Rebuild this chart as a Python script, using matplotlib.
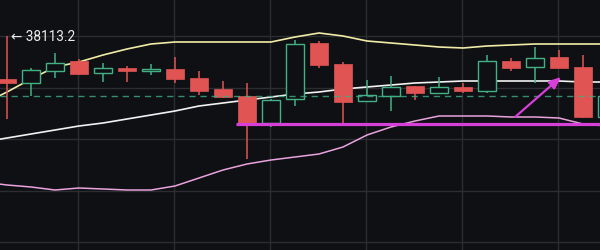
import matplotlib
matplotlib.use("Agg")
import matplotlib.pyplot as plt
from matplotlib.patches import Rectangle

# OHLC candles (price)
opens  = [38027.2, 38019.2, 38043.2, 38063.2, 38039.2, 38049.2, 38043.2, 38047.2, 38029.2, 38007.2,
          37993.2, 37939.2, 37987.2, 38099.2, 38057.2, 37983.2, 37993.2, 38013.2, 37999.2, 38011.2,
          38003.2, 38063.2, 38051.2, 38071.2, 38051.2, 37951.2]
highs  = [38113.2, 38049.2, 38079.2, 38067.2, 38059.2, 38053.2, 38057.2, 38071.2, 38043.2, 38023.2,
          38019.2, 37987.2, 38105.2, 38103.2, 38061.2, 38025.2, 38033.2, 38013.2, 38031.2, 38019.2,
          38075.2, 38069.2, 38091.2, 38085.2, 38075.2, 37997.2]
lows   = [37947.2, 37993.2, 38029.2, 38035.2, 38021.2, 38021.2, 38035.2, 38019.2, 37995.2, 37989.2,
          37867.2, 37931.2, 37973.2, 38049.2, 37939.2, 37981.2, 37963.2, 37985.2, 37997.2, 37999.2,
          37999.2, 38043.2, 38019.2, 38049.2, 37949.2, 37947.2]
closes = [38019.2, 38045.2, 38059.2, 38037.2, 38049.2, 38043.2, 38047.2, 38027.2, 38003.2, 37991.2,
          37939.2, 37985.2, 38097.2, 38055.2, 37981.2, 37995.2, 38011.2, 37999.2, 38011.2, 38003.2,
          38063.2, 38049.2, 38069.2, 38049.2, 37951.2, 37993.2]

# Bollinger bands, sampled from one bar before the first candle
band_upper = [37977.2, 38001.2, 38027.2, 38051.2, 38061.2, 38075.2, 38087.2, 38097.2, 38101.2, 38101.2,
              38101.2, 38101.2, 38101.2, 38111.2, 38119.2, 38113.2, 38103.2, 38099.2, 38095.2, 38091.2,
              38089.2, 38093.2, 38095.2, 38097.2, 38097.2, 38097.2, 38097.2]
band_mid   = [37901.2, 37909.2, 37917.2, 37925.2, 37933.2, 37939.2, 37947.2, 37955.2, 37963.2, 37973.2,
              37979.2, 37985.2, 37991.2, 37997.2, 38001.2, 38007.2, 38011.2, 38015.2, 38019.2, 38021.2,
              38023.2, 38023.2, 38023.2, 38023.2, 38023.2, 38021.2, 38021.2]
band_lower = [37821.2, 37815.2, 37811.2, 37805.2, 37809.2, 37807.2, 37805.2, 37805.2, 37813.2, 37829.2,
              37845.2, 37857.2, 37865.2, 37871.2, 37877.2, 37891.2, 37915.2, 37931.2, 37943.2, 37953.2,
              37953.2, 37953.2, 37951.2, 37951.2, 37949.2, 37937.2, 37933.2]

last_price = 37993.2
support_level = 37937.2
support_start = 9.54
arrow_from = (21.17, 37951.2)
arrow_to = (23.08, 38031.2)
high_label = "← 38113.2"
high_value = 38113.2
grid_levels = [38113.2, 38010.2, 37907.2, 37804.2, 37701.2]
grid_bars = [3, 7, 11, 15, 19, 23]

BG = "#0f1013"
GRID = "#2c2d31"
RED = "#e05454"
GREEN = "#43b184"
MAGENTA = "#d63fd8"

fig = plt.figure(figsize=(6.0, 2.51), dpi=100, facecolor=BG)
ax = fig.add_axes([0, 0, 1, 1])
ax.set_facecolor(BG)
ax.set_xlim(-0.2917, 24.708)
ax.set_ylim(37685.2, 38187.2)
for s in ax.spines.values():
    s.set_visible(False)
ax.set_xticks([])
ax.set_yticks([])

for g in grid_levels:
    ax.axhline(g, color=GRID, lw=1.0, zorder=0)
for g in grid_bars:
    ax.axvline(g - 0.04, color=GRID, lw=1.0, zorder=0)

# bands
bx = list(range(-1, len(band_mid) - 1))
ax.plot(bx, band_upper, color="#f0eca8", lw=1.2, zorder=2)
ax.plot(bx, band_mid, color="#f2f2f2", lw=1.2, zorder=2)
ax.plot(bx, band_lower, color="#e9a3de", lw=1.1, zorder=2)

# candles
w = 0.77
for i, (o, h, l, c) in enumerate(zip(opens, highs, lows, closes)):
    up = c >= o
    col = GREEN if up else RED
    ax.plot([i, i], [l, h], color=col, lw=1.1, zorder=3, solid_capstyle="butt")
    lo, hi = min(o, c), max(o, c)
    if up:
        ax.add_patch(Rectangle((i - w / 2, lo), w, hi - lo, facecolor=BG,
                               edgecolor=col, lw=1.0, zorder=4))
    else:
        ax.add_patch(Rectangle((i - w / 2, lo), w, hi - lo, facecolor=col,
                               edgecolor=col, lw=0.5, zorder=4))

# last price line
ax.axhline(last_price, color="#3fae84", lw=1.0, ls=(0, (4.5, 3.5)), alpha=0.8, zorder=5)

# drawn support line and arrow
ax.plot([support_start, 24.708], [support_level, support_level], color=MAGENTA, lw=2.3, zorder=6,
        solid_capstyle="butt")
ax.annotate("", xy=arrow_to, xytext=arrow_from,
            arrowprops=dict(arrowstyle="-|>,head_length=0.7,head_width=0.3", color=MAGENTA, lw=1.6,
                            shrinkA=0, shrinkB=0), zorder=6)

ax.text(0.17, high_value, high_label, color="#ececec", fontsize=9.8, family=["Roboto", "DejaVu Sans"],
        va="center", ha="left", zorder=7)

fig.savefig("out.png", dpi=100, facecolor=BG)
